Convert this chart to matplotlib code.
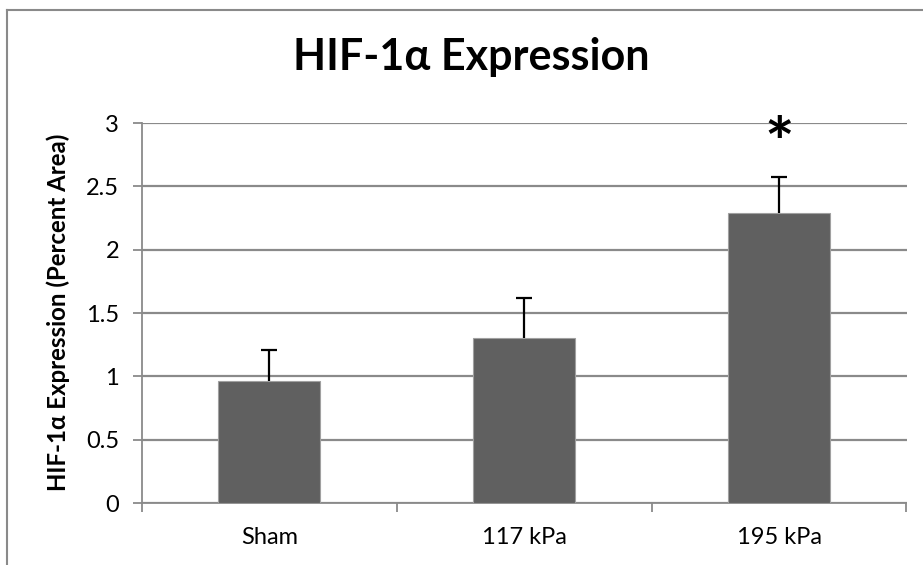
import matplotlib
matplotlib.use("Agg")
import matplotlib.pyplot as plt
from matplotlib.lines import Line2D

# Data
categories = ["Sham", "117 kPa", "195 kPa"]
means = [0.96, 1.30, 2.29]
errors = [0.25, 0.32, 0.285]
significance = ["", "", "*"]
y_ticks = [0, 0.5, 1, 1.5, 2, 2.5, 3]
y_tick_labels = ["0", "0.5", "1", "1.5", "2", "2.5", "3"]

plt.rcParams["font.family"] = ["Lato", "DejaVu Sans"]

W, H = 923, 565
fig = plt.figure(figsize=(W / 100, H / 100), dpi=100)
ax = fig.add_axes([142 / W, 1 - 503 / H, (906.5 - 142) / W, (503 - 123) / H])

grid_col = "#8a8a8a"
x = list(range(len(categories)))
ax.bar(x, means, width=0.4, color="#606060", edgecolor="#a0a0a0",
       linewidth=0.8, zorder=3)
_, caps, _ = ax.errorbar(x, means, yerr=[[0] * len(errors), errors],
                         fmt="none", ecolor="black", elinewidth=1.6,
                         capsize=6, capthick=1.6, zorder=4)
# only the upper whisker carries a cap
caps[0].set_visible(False)

for xi, s in zip(x, significance):
    if s:
        ax.text(xi, 2.81, s, ha="center", va="center", fontsize=50,
                fontweight="bold", color="black", zorder=5)

ax.set_xlim(-0.5, len(categories) - 0.5)
ax.set_ylim(0, 3)
ax.set_yticks(y_ticks)
ax.set_yticklabels(y_tick_labels, fontsize=17)
ax.yaxis.grid(True, color=grid_col, linewidth=1.6, zorder=0)
ax.set_axisbelow(True)

ax.set_xticks(x)
ax.set_xticklabels(categories, fontsize=17)
ax.set_xticks([-0.5, 0.5, 1.5, 2.5], minor=True)
ax.tick_params(axis="x", which="major", length=0, pad=17)
ax.tick_params(axis="x", which="minor", length=6.5, width=1.3, color=grid_col,
               direction="out")
ax.tick_params(axis="y", length=6.5, width=1.3, color=grid_col, pad=10)

for side in ["top", "right"]:
    ax.spines[side].set_visible(False)
for side in ["left", "bottom"]:
    ax.spines[side].set_color(grid_col)
    ax.spines[side].set_linewidth(1.3)

ax.set_ylabel("HIF-1α Expression (Percent Area)", fontsize=17.3,
              fontweight="bold")
ax.yaxis.set_label_coords(70 / W, 1 - 312 / H, transform=fig.transFigure)

fig.text(471 / W, 1 - 57 / H, "HIF-1α Expression", ha="center", va="center",
         fontsize=31, fontweight="bold")

# Chart frame
fig.add_artist(Line2D([7 / W, 1], [1 - 10 / H, 1 - 10 / H],
                      transform=fig.transFigure, color="#8a8a8a", lw=1.5))
fig.add_artist(Line2D([7 / W, 7 / W], [0, 1 - 10 / H],
                      transform=fig.transFigure, color="#8a8a8a", lw=1.5))

fig.savefig("out.png", dpi=100)
